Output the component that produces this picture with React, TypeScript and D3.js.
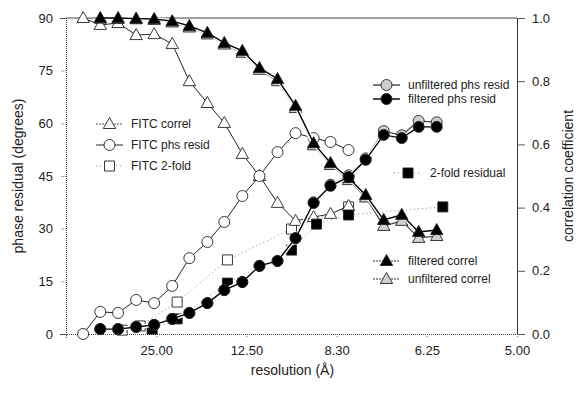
import * as d3 from 'd3';
import { useRef, useEffect } from 'react';

// reciprocal resolution (1/Å) of each shell
const fitcShells = [0.0076, 0.0152, 0.0231, 0.0311, 0.0391, 0.0471, 0.0547, 0.0627, 0.0702, 0.0782, 0.0858, 0.0938, 0.1018, 0.1098, 0.1173, 0.1253];
const filtShells = [0.0152, 0.0231, 0.0311, 0.0391, 0.0471, 0.0547, 0.0627, 0.0702, 0.0782, 0.0858, 0.0938, 0.1018, 0.1098, 0.1173, 0.1253, 0.1329, 0.1409, 0.1489, 0.1564, 0.1644];
const fitcFoldShells = [0.0249, 0.0329, 0.0493, 0.0716, 0.1, 0.1253];
const foldShells = [0.0382, 0.0493, 0.0716, 0.1, 0.1111, 0.1253, 0.1671];

// left axis, degrees
const fitcPhsResid = [0, 6.3, 6.0, 9.7, 8.8, 13.7, 21.6, 26.2, 31.9, 39.3, 45.0, 51.8, 57.2, 55.8, 54.7, 52.4];
const fitcTwoFold = [1.1, 2.3, 9.1, 21.1, 29.9, 36.2];
const twoFoldResid = [1.4, 4.3, 14.5, 23.9, 31.3, 33.9, 36.2];
const filtPhsResid = [1.4, 1.4, 2.0, 2.6, 4.3, 6.0, 8.8, 12.5, 14.8, 19.4, 20.8, 27.3, 37.3, 42.2, 44.7, 49.6, 56.7, 55.8, 59.0, 59.0];
const unfiltPhsResid = [1.4, 1.4, 2.0, 2.6, 4.3, 6.0, 8.8, 12.5, 14.8, 19.4, 20.8, 27.3, 37.5, 42.5, 45.2, 50.0, 57.8, 56.6, 60.7, 60.3];

// right axis, correlation
const fitcCorrel = [1.0, 0.978, 0.984, 0.946, 0.949, 0.918, 0.80, 0.731, 0.668, 0.570, 0.50, 0.415, 0.358, 0.37, 0.38, 0.405];
const filtCorrel = [1.0, 1.0, 0.998, 0.997, 0.99, 0.975, 0.953, 0.921, 0.896, 0.842, 0.807, 0.722, 0.604, 0.541, 0.494, 0.44, 0.361, 0.377, 0.323, 0.329];
const unfiltCorrel = [0.998, 0.997, 0.996, 0.994, 0.986, 0.97, 0.948, 0.916, 0.89, 0.836, 0.8, 0.715, 0.597, 0.535, 0.487, 0.432, 0.342, 0.358, 0.304, 0.31];

const xTicks = [0.04, 0.08, 0.12, 0.16, 0.2];
const xTickLabels = ['25.00', '12.50', '8.30', '6.25', '5.00'];
const degTicks = [0, 15, 30, 45, 60, 75, 90];
const corrTicks = [0, 0.2, 0.4, 0.6, 0.8, 1.0];

const W = 584;
const H = 393;
const FONT = '"Liberation Sans", Arial, sans-serif';

type Marker = 'circle' | 'triangle' | 'square';

function markerPath(m: Marker) {
  if (m === 'circle') return d3.symbol(d3.symbolCircle, 95)();
  if (m === 'square') return 'M-5,-5H5V5H-5Z';
  return 'M0,-6.5L6.2,4.5L-6.2,4.5Z';
}

const App = () => {
  const ref = useRef<SVGSVGElement>(null);

  useEffect(() => {
    if (!ref.current) return;
    const svg = d3.select(ref.current);
    svg.selectAll('*').remove();

    const left = 66, right = 517, top = 18, bottom = 334;
    const x = d3.scaleLinear().domain([0, 0.2]).range([left, right]);
    const yDeg = d3.scaleLinear().domain([0, 90]).range([bottom, top]);
    const yCor = d3.scaleLinear().domain([0, 1]).range([bottom, top]);

    const g = svg.append('g').attr('font-family', FONT);

    // frame
    g.append('line').attr('x1', left).attr('x2', right).attr('y1', top).attr('y2', top)
      .attr('stroke', '#444').attr('stroke-width', 1);

    const leftAxis = g.append('g').attr('transform', `translate(${left},0)`)
      .call(d3.axisLeft(yDeg).tickValues(degTicks).tickSize(6).tickPadding(7).tickFormat(d3.format('d')));
    leftAxis.select('.domain').attr('stroke', '#333').attr('stroke-dasharray', '1,1');
    leftAxis.selectAll('.tick line').attr('stroke', '#777').attr('stroke-dasharray', '1,1');

    const rightAxis = g.append('g').attr('transform', `translate(${right},0)`)
      .call(d3.axisRight(yCor).tickValues(corrTicks).tickSize(8).tickPadding(7).tickFormat(d3.format('.1f')));
    rightAxis.select('.domain').attr('stroke', '#333');
    rightAxis.selectAll('.tick line').attr('stroke', '#555');

    const bottomAxis = g.append('g').attr('transform', `translate(0,${bottom})`)
      .call(d3.axisBottom(x).tickValues(xTicks).tickSize(4).tickPadding(8)
        .tickFormat((_d, i) => xTickLabels[i]));
    bottomAxis.select('.domain').attr('stroke', '#444').attr('stroke-dasharray', '1,1');
    bottomAxis.selectAll('.tick line').attr('stroke', '#777').attr('stroke-dasharray', '1,1');

    g.selectAll('.tick text').attr('font-family', FONT).attr('font-size', 13).attr('fill', '#222');
    g.selectAll('.domain').attr('fill', 'none');

    // axis titles
    g.append('text').attr('x', (left + right) / 2 + 1).attr('y', 375).attr('text-anchor', 'middle')
      .attr('font-size', 14).attr('fill', '#222').text('resolution (Å)');
    g.append('text').attr('transform', `translate(23,${(top + bottom) / 2}) rotate(-90)`)
      .attr('text-anchor', 'middle').attr('font-size', 14).attr('fill', '#222').text('phase residual (degrees)');
    g.append('text').attr('transform', `translate(573,${(top + bottom) / 2}) rotate(-90)`)
      .attr('text-anchor', 'middle').attr('font-size', 14).attr('fill', '#222').text('correlation coefficient');

    const series = (
      xs: number[], ys: number[], yScale: d3.ScaleLinear<number, number>,
      marker: Marker, fill: string, lineStroke: string, dash: string | null, width: number, halo: boolean
    ) => {
      const pts: [number, number][] = xs.map((v, i) => [x(v), yScale(ys[i])]);
      const line = d3.line();
      if (halo) {
        g.append('path').attr('d', line(pts)).attr('fill', 'none').attr('stroke', '#fff').attr('stroke-width', width + 2.5);
      }
      g.append('path').attr('d', line(pts)).attr('fill', 'none').attr('stroke', lineStroke)
        .attr('stroke-width', width).attr('stroke-dasharray', dash);
      g.append('g').selectAll('path').data(pts).join('path')
        .attr('transform', d => `translate(${d[0]},${d[1]})`)
        .attr('d', markerPath(marker))
        .attr('fill', fill).attr('stroke', '#222').attr('stroke-width', 0.9);
    };

    // FITC series
    series(fitcFoldShells, fitcTwoFold, yDeg, 'square', '#fff', '#888', '1,3', 1, false);
    series(fitcShells, fitcCorrel, yCor, 'triangle', '#fff', '#222', null, 1, false);
    series(fitcShells, fitcPhsResid, yDeg, 'circle', '#fff', '#222', null, 1, false);
    // filtered / unfiltered
    series(foldShells, twoFoldResid, yDeg, 'square', '#000', '#888', '1,3', 1, false);
    series(filtShells, unfiltCorrel, yCor, 'triangle', '#cfcfcf', '#444', null, 1.2, true);
    series(filtShells, filtCorrel, yCor, 'triangle', '#000', '#000', null, 1.4, true);
    series(filtShells, unfiltPhsResid, yDeg, 'circle', '#cfcfcf', '#444', null, 1.2, true);
    series(filtShells, filtPhsResid, yDeg, 'circle', '#000', '#000', null, 1.4, true);

    // legends
    const legendItem = (lx: number, ly: number, len: number, marker: Marker, fill: string,
      stroke: string, dash: string | null, width: number, label: string) => {
      const lg = g.append('g');
      lg.append('line').attr('x1', lx).attr('x2', lx + len).attr('y1', ly).attr('y2', ly)
        .attr('stroke', stroke).attr('stroke-width', width).attr('stroke-dasharray', dash);
      lg.append('path').attr('transform', `translate(${lx + len / 2},${ly})`).attr('d', markerPath(marker))
        .attr('fill', fill).attr('stroke', '#222').attr('stroke-width', 0.9);
      lg.append('text').attr('x', lx + len + 8).attr('y', ly).attr('dy', '0.35em')
        .attr('font-size', 12).attr('fill', '#222').text(label);
    };

    legendItem(96, 124, 27, 'triangle', '#fff', '#555', '2,1', 1, 'FITC correl');
    legendItem(96, 145, 27, 'circle', '#fff', '#222', null, 1, 'FITC phs resid');
    legendItem(96, 166, 27, 'square', '#fff', '#888', '1,3', 1, 'FITC 2-fold');

    legendItem(373, 85, 27, 'circle', '#cfcfcf', '#222', null, 1.2, 'unfiltered phs resid');
    legendItem(373, 99, 27, 'circle', '#000', '#000', null, 1.4, 'filtered phs resid');
    legendItem(394, 173, 28, 'square', '#000', '#888', '1,3', 1, '2-fold residual');
    legendItem(373, 261, 27, 'triangle', '#000', '#333', '2,1', 1.2, 'filtered correl');
    legendItem(373, 279, 27, 'triangle', '#cfcfcf', '#333', '2,1', 1.2, 'unfiltered correl');
  }, []);

  return (
    <svg ref={ref} width={W} height={H}
      style={{ position: 'absolute', left: 0, top: 0, background: '#fff' }} />
  );
};

export default App;
